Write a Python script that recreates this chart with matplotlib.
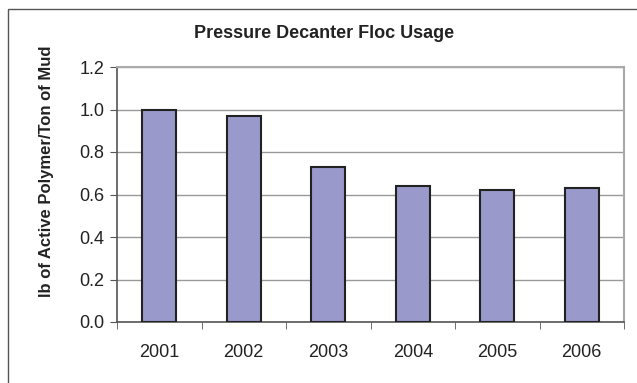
import matplotlib
matplotlib.use("Agg")
import matplotlib.pyplot as plt
from matplotlib.patches import Rectangle

years = ["2001", "2002", "2003", "2004", "2005", "2006"]
usage = [1.00, 0.97, 0.73, 0.64, 0.62, 0.63]
y_ticks = [0.0, 0.2, 0.4, 0.6, 0.8, 1.0, 1.2]

plt.rcParams["font.family"] = ["Liberation Sans", "DejaVu Sans"]

fig = plt.figure(figsize=(6.37, 3.83), dpi=100)
# outer chart frame (only top/left visible)
fig.patches.append(Rectangle((8 / 637, -0.1), 1.0, 1 - 9 / 383 + 0.1, transform=fig.transFigure,
                             fill=False, edgecolor="#555555", linewidth=1.0))

ax = fig.add_axes([117 / 637, 61 / 383, 507 / 637, 255 / 383])
x = list(range(len(years)))
ax.bar(x, usage, width=0.4, color="#9999CC", edgecolor="#222222", linewidth=1.5, zorder=3)

ax.set_xlim(-0.5, len(years) - 0.5)
ax.set_ylim(0, 1.2)
ax.set_yticks(y_ticks)
ax.set_yticklabels([f"{v:.1f}" for v in y_ticks])
ax.set_xticks(x)
ax.set_xticklabels(years)
ax.set_xticks([i - 0.5 for i in range(len(years) + 1)], minor=True)
ax.tick_params(axis="x", which="major", length=0, pad=16, labelsize=13, colors="#222222")
ax.tick_params(axis="x", which="minor", length=5, color="#555555", direction="out")
ax.tick_params(axis="y", length=5, color="#555555", labelsize=13, colors="#222222", pad=4)
ax.yaxis.grid(True, color="#999999", linewidth=1.0, zorder=0)

for side in ["top", "right"]:
    ax.spines[side].set_color("#aaaaaa")
    ax.spines[side].set_linewidth(1.5)
for side in ["left", "bottom"]:
    ax.spines[side].set_color("#555555")
    ax.spines[side].set_linewidth(1.2)

fig.text(47 / 637, 1 - 171 / 383, "lb of Active Polymer/Ton of Mud", rotation=90,
         ha="center", va="center", fontsize=12, fontweight="bold", color="#222222")
fig.text(324 / 637, 1 - 33 / 383, "Pressure Decanter Floc Usage", ha="center", va="center",
         fontsize=13, fontweight="bold", color="#222222")

fig.savefig("out.png", dpi=100)
